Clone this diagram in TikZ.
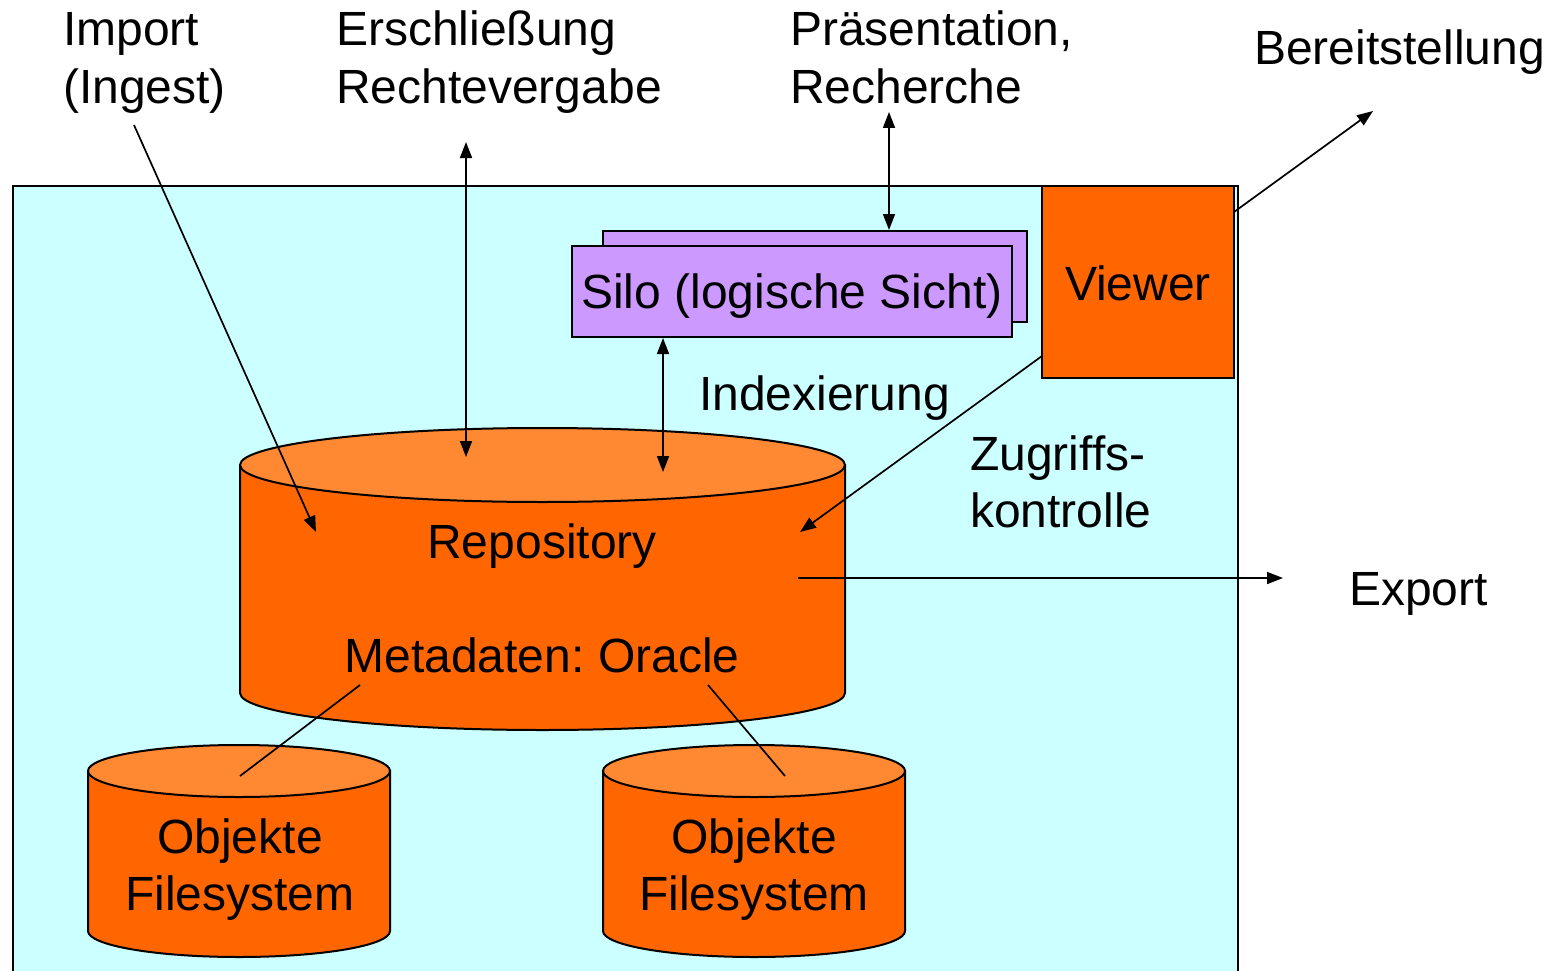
\documentclass[tikz,border=0pt]{standalone}
\usepackage{fontspec}
\setmainfont{Liberation Sans}
\usetikzlibrary{arrows.meta}
\frenchspacing
\definecolor{bgcyan}{HTML}{CCFFFF}
\definecolor{silofill}{HTML}{CC99FF}
\definecolor{orangefill}{HTML}{FF6600}
\definecolor{orangetop}{HTML}{FF8833}
\tikzset{
  lbl/.style={inner sep=0pt, font=\fontsize{48}{57}\selectfont, align=left},
  box/.style={draw=black, line width=2pt, inner sep=0pt},
  conn/.style={draw=black, line width=1.7pt},
  arr/.style={conn, -{Triangle[length=16pt,width=12pt]}},
  dbl/.style={conn, {Triangle[length=16pt,width=12pt]}-{Triangle[length=16pt,width=12pt]}},
}
\begin{document}
\begin{tikzpicture}[x=1pt,y=-1pt]
\useasboundingbox (0,0) rectangle (1549,971);
\clip (0,0) rectangle (1549,971);
\fill[white] (0,0) rectangle (1549,971);
% background panel
\draw[fill=bgcyan, line width=2pt] (13,186) rectangle (1238,1000);

% Repository cylinder
\filldraw[fill=orangefill, line width=2pt] (240,465) -- (240,693)
  arc[start angle=180, end angle=360, x radius=302.5pt, y radius=37pt] -- (845,465) -- cycle;
\filldraw[fill=orangetop, line width=2pt] (542.5,465) ellipse [x radius=302.5pt, y radius=37pt];

% Objekte cylinders
\filldraw[fill=orangefill, line width=2pt] (88,771) -- (88,931)
  arc[start angle=180, end angle=360, x radius=151pt, y radius=26pt] -- (390,771) -- cycle;
\filldraw[fill=orangetop, line width=2pt] (239,771) ellipse [x radius=151pt, y radius=26pt];
\filldraw[fill=orangefill, line width=2pt] (603,771) -- (603,931)
  arc[start angle=180, end angle=360, x radius=151pt, y radius=26pt] -- (905,771) -- cycle;
\filldraw[fill=orangetop, line width=2pt] (754,771) ellipse [x radius=151pt, y radius=26pt];

% Silo boxes
\node[box, fill=silofill, minimum width=424pt, minimum height=91pt] (siloback) at (815,276.5) {};
\node[box, fill=silofill, minimum width=440pt, minimum height=91pt] (silo) at (792,291.5) {};
% Viewer
\node[box, fill=orangefill, minimum width=192pt, minimum height=192pt] (viewer) at (1138,282) {};

% Texts (base anchor = baseline of last line)
\node[lbl, anchor=base west] (import) at (63,103) {Import\\(Ingest)};
\node[lbl, anchor=base west] (erschl) at (336,103) {Erschließung\\Rechtevergabe};
\node[lbl, anchor=base west] (praes) at (790,103) {Präsentation,\\Recherche};
\node[lbl, anchor=base west] (bereit) at (1254,65) {Bereitstellung};
\node[lbl, anchor=base] (silotxt) at (792,308) {Silo (logische Sicht)};
\node[lbl, anchor=base] (viewertxt) at (1138,300) {Viewer};
\node[lbl, anchor=base west] (index) at (699,410) {Indexierung};
\node[lbl, anchor=base west] (zugriff) at (970,527) {Zugriffs-\\kontrolle};
\node[lbl, anchor=base west] (export) at (1349,605) {Export};
\node[lbl, anchor=base] (repo) at (542,558) {Repository};
\node[lbl, anchor=base] (meta) at (542,672) {Metadaten: Oracle};
\node[lbl, anchor=base, align=center] (obj1) at (240,910) {Objekte\\Filesystem};
\node[lbl, anchor=base, align=center] (obj2) at (754,910) {Objekte\\Filesystem};

% connector endpoints
\coordinate (impA) at (134,125);
\coordinate (impB) at (316,532);
\coordinate (ersA) at (466,142);
\coordinate (ersB) at (466,457);
\coordinate (praA) at (889,112);
\coordinate (praB) at (889,230);
\coordinate (idxA) at (663,338);
\coordinate (idxB) at (663,472);
\coordinate (berA) at (1234,212);
\coordinate (berB) at (1373,111);
\coordinate (vwA) at (1042,356);
\coordinate (vwB) at (800,532);
\coordinate (expA) at (798,578);
\coordinate (expB) at (1283,578);
\coordinate (m1A) at (360,685);
\coordinate (m1B) at (240,776);
\coordinate (m2A) at (708,685);
\coordinate (m2B) at (785,776);

\draw[arr] (impA) -- (impB);
\draw[dbl] (ersA) -- (ersB);
\draw[dbl] (praA) -- (praB);
\draw[dbl] (idxA) -- (idxB);
\draw[arr] (berA) -- (berB);
\draw[arr] (vwA) -- (vwB);
\draw[arr] (expA) -- (expB);
\draw[conn] (m1A) -- (m1B);
\draw[conn] (m2A) -- (m2B);
\end{tikzpicture}
\end{document}
